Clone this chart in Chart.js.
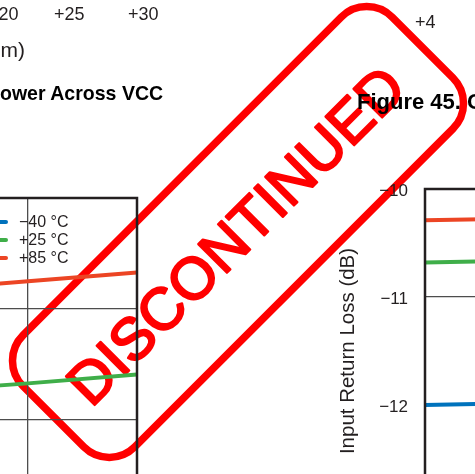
<!DOCTYPE html>
<html>
<head>
<meta charset="utf-8">
<script src="https://cdn.jsdelivr.net/npm/chart.js@4"></script>
<style>
  html, body { margin: 0; padding: 0; background: #fff; }
  #page { position: relative; width: 475px; height: 474px; overflow: hidden; background: #fff; }
  canvas, .txt { position: absolute; }
  #stamp { left: 0; top: 0; z-index: 1; }
  #vccPower, #returnLoss { left: 0; top: 0; z-index: 2; }
  .txt { z-index: 3; white-space: nowrap; line-height: 1; color: #231f20;
         font-family: "Liberation Sans", Arial, sans-serif; }
  .tick { font-size: 18px; }
  .axis { font-size: 21px; }
  .fig { font-size: 22px; font-weight: bold; color: #000; }
</style>
</head>
<body>
<div id="page">
  <canvas id="stamp" width="475" height="474"></canvas>
  <canvas id="vccPower" width="557" height="413"></canvas>
  <canvas id="returnLoss" width="609" height="404"></canvas>

  <div class="txt tick" style="left:-12px; top:5px;">+20</div>
  <div class="txt tick" style="left:54px; top:5px;">+25</div>
  <div class="txt tick" style="left:128px; top:5px;">+30</div>
  <div class="txt axis" style="right:450px; top:39px;">Output Power (dBm)</div>
  <div class="txt fig" style="right:312px; top:82px; font-size:21px; transform:scaleX(0.93); transform-origin:right center;">Figure 44. Output Power Across VCC</div>
  <div class="txt tick" style="left:415px; top:13px;">+4</div>
  <div class="txt fig" style="left:357px; top:91px;">Figure 45. Over Temperature</div>
</div>

<script>
// supply voltage steps shared by both plots (V)
const vccLevels = [3.1, 3.2, 3.3, 3.4, 3.5];
const tempLabels = ['\u221240 \u00b0C', '+25 \u00b0C', '+85 \u00b0C'];
const tempColors = ['#0072bc', '#3fae49', '#ec4524'];

// output power (dBm) per temperature
const powerCold = [17.05, 17.13, 17.20, 17.28, 17.36];
const powerRoom = [18.10, 18.18, 18.26, 18.33, 18.41];
const powerHot  = [19.02, 19.10, 19.17, 19.25, 19.33];
const powerRange = [17, 20];

// input return loss (dB) per temperature
const lossCold = [-12.00, -11.98, -11.96, -11.95, -11.93];
const lossRoom = [-10.68, -10.66, -10.64, -10.63, -10.61];
const lossHot  = [-10.29, -10.27, -10.25, -10.24, -10.22];
const lossRange = [-13, -10];

const sans = '"Liberation Sans", Arial, sans-serif';
const ink = '#231f20';

// red DISCONTINUED stamp sitting under both plots
const st = document.getElementById('stamp').getContext('2d');
st.translate(238, 232);
st.rotate(-Math.PI / 4);
st.strokeStyle = '#ff0000';
st.fillStyle = '#ff0000';
st.lineWidth = 7.5;
st.beginPath();
st.roundRect(-261, -79, 522, 158, 36);
st.stroke();
st.font = '59px ' + sans;
st.textAlign = 'center';
st.textBaseline = 'alphabetic';
st.lineWidth = 2.2;
st.lineJoin = 'round';
st.fillText('DISCONTINUED', -4, 21);
st.strokeText('DISCONTINUED', -4, 21);

// black box round the plotting area
const frame = {
  id: 'frame',
  afterDatasetsDraw(chart) {
    const { ctx, chartArea: a } = chart;
    ctx.save();
    ctx.strokeStyle = ink;
    ctx.lineWidth = 2.5;
    ctx.strokeRect(a.left, a.top, a.right - a.left, a.bottom - a.top);
    ctx.restore();
  }
};

// legend in the top right corner, on a white patch behind the grid
const boxLegend = {
  id: 'boxLegend',
  beforeDraw(chart) {
    const { ctx, chartArea: a } = chart;
    ctx.save();
    ctx.fillStyle = '#fff';
    ctx.fillRect(a.right - 220, a.top + 3, 165, 67);
    ctx.restore();
  },
  afterDraw(chart) {
    const { ctx, chartArea: a } = chart;
    ctx.save();
    ctx.font = '16px ' + sans;
    ctx.textBaseline = 'middle';
    chart.data.datasets.forEach((ds, i) => {
      const y = a.top + 24 + i * 18;
      ctx.strokeStyle = ds.borderColor;
      ctx.lineWidth = 4;
      ctx.lineCap = 'round';
      ctx.beginPath();
      ctx.moveTo(a.right - 150, y);
      ctx.lineTo(a.right - 131, y);
      ctx.stroke();
      ctx.fillStyle = ink;
      ctx.fillText(ds.label, a.right - 118, y + 1);
    });
    ctx.restore();
  }
};

function series(values, i) {
  return {
    label: tempLabels[i],
    data: vccLevels.map((v, k) => ({ x: v, y: values[k] })),
    borderColor: tempColors[i],
    backgroundColor: tempColors[i],
    borderWidth: 4,
    pointRadius: 0,
    tension: 0
  };
}

const gridStyle = { color: '#4d4d4d', lineWidth: 1.3, drawTicks: false };
const tickFont = { family: sans, size: 17 };

function vccAxis() {
  return {
    type: 'linear', min: vccLevels[0], max: vccLevels[vccLevels.length - 1],
    ticks: { stepSize: 0.1, color: ink, font: tickFont, padding: 8, maxRotation: 0 },
    grid: gridStyle, border: { display: false },
    afterFit(s) { s.height = 40; }
  };
}

// move a canvas so its plotting area lands at (left, top) on the page
function placeArea(chart, left, top, anchorRight) {
  const a = chart.chartArea;
  const x = anchorRight ? left - a.right : left - a.left;
  chart.canvas.style.left = x + 'px';
  chart.canvas.style.top = (top - a.top) + 'px';
}

const powerChart = new Chart(document.getElementById('vccPower'), {
  type: 'line',
  data: { datasets: [series(powerCold, 0), series(powerRoom, 1), series(powerHot, 2)] },
  options: {
    responsive: false,
    animation: false,
    layout: { padding: { left: 11, right: 40, top: 40, bottom: 0 } },
    plugins: { legend: { display: false }, tooltip: { enabled: false } },
    scales: {
      x: vccAxis(),
      y: {
        min: powerRange[0], max: powerRange[1],
        ticks: { stepSize: 1, color: ink, font: tickFont, padding: 17 },
        grid: gridStyle, border: { display: false },
        afterFit(s) { s.width = 70; }
      }
    }
  },
  plugins: [boxLegend, frame]
});
placeArea(powerChart, 137, 198, true);

const lossChart = new Chart(document.getElementById('returnLoss'), {
  type: 'line',
  data: { datasets: [series(lossCold, 0), series(lossRoom, 1), series(lossHot, 2)] },
  options: {
    responsive: false,
    animation: false,
    layout: { padding: { left: 20, right: 40, top: 40, bottom: 0 } },
    plugins: { legend: { display: false }, tooltip: { enabled: false } },
    scales: {
      x: vccAxis(),
      y: {
        min: lossRange[0], max: lossRange[1],
        ticks: {
          stepSize: 1, color: ink, font: tickFont, padding: 17, labelOffset: 2.5,
          callback: v => (v < 0 ? '\u2212' : '') + Math.abs(v)
        },
        title: {
          display: true, text: 'Input Return Loss (dB)', color: ink,
          font: { family: sans, size: 20.5 }, padding: { top: 4, bottom: 0 }
        },
        grid: gridStyle, border: { display: false },
        afterFit(s) { s.width = 93; }
      }
    }
  },
  plugins: [frame]
});
placeArea(lossChart, 425, 189, false);
</script>
</body>
</html>
